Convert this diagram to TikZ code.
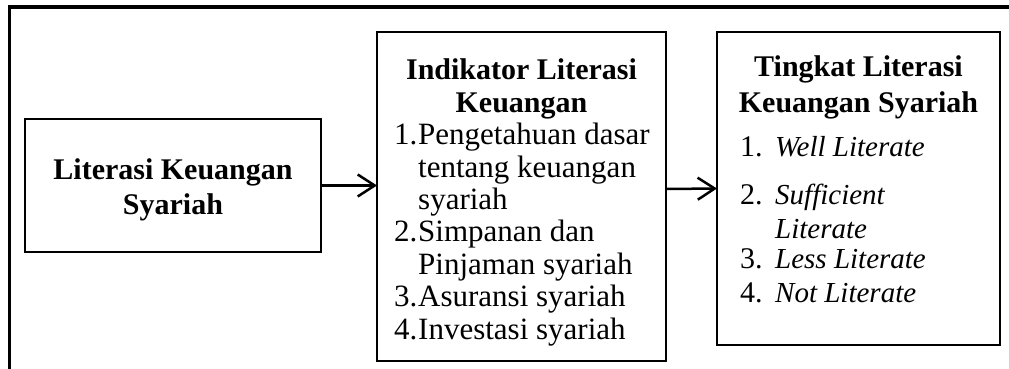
\documentclass[tikz,border=0pt]{standalone}
\usepackage{fontspec}
\setmainfont{Liberation Serif}
\usetikzlibrary{arrows.meta}
\begin{document}
\begin{tikzpicture}[x=1pt,y=-1pt,
  box/.style={draw, line width=2.5pt, anchor=north west, inner sep=0pt, outer sep=0pt},
  tx/.style={font=\fontsize{30}{34}\selectfont, inner sep=0pt, anchor=base west},
  lx/.style={font=\fontsize{31}{34}\selectfont, inner sep=0pt, anchor=base west},
  tt/.style={font=\fontsize{30}{34}\selectfont\bfseries, inner sep=0pt, anchor=base},
  it/.style={font=\fontsize{29}{34}\selectfont\itshape, inner sep=0pt, anchor=base west},
  arr/.style={line width=2.5pt, -{Straight Barb[length=17pt,width=22pt,line width=2.5pt]}},
  frame/.style={line width=3.5pt}]
\useasboundingbox (0,0) rectangle (1009,369);
% outer frame
\coordinate (fa) at (9.5,369);
\coordinate (fb) at (9.5,7);
\coordinate (fc) at (1009,7);
\draw[frame] (fa) -- (fb) -- (fc);
% boxes
\node[box, minimum width=296pt, minimum height=133pt] (b1) at (25,119) {};
\node[box, minimum width=289pt, minimum height=329pt] (b2) at (377,32) {};
\node[box, minimum width=283pt, minimum height=313pt] (b3) at (717,32) {};
% box 1 text
\node[tt] (t1a) at (173,179) {Literasi Keuangan};
\node[tt] (t1b) at (173,214) {Syariah};
% box 2 text
\node[tt] (t2a) at (521.5,79) {Indikator Literasi};
\node[tt] (t2b) at (521.5,112) {Keuangan};
\node[lx] (n21) at (394,144) {1.};
\node[lx] (l21) at (418,144) {Pengetahuan dasar};
\node[lx] (l21b) at (418,177) {tentang keuangan};
\node[lx] (l21c) at (418,209) {syariah};
\node[lx] (n22) at (394,241) {2.};
\node[lx] (l22) at (418,241) {Simpanan dan};
\node[lx] (l22b) at (418,274) {Pinjaman syariah};
\node[lx] (n23) at (394,306) {3.};
\node[lx] (l23) at (418,306) {Asuransi syariah};
\node[lx] (n24) at (394,339) {4.};
\node[lx] (l24) at (418,339) {Investasi syariah};
% box 3 text
\node[tt] (t3a) at (858.5,77) {Tingkat Literasi};
\node[tt] (t3b) at (858.5,112) {Keuangan Syariah};
\node[tx] (n31) at (740,156) {1.};
\node[it] (l31) at (775,156) {Well Literate};
\node[tx] (n32) at (740,204) {2.};
\node[it] (l32) at (775,204) {Sufficient};
\node[it] (l32b) at (775,238) {Literate};
\node[tx] (n33) at (740,268) {3.};
\node[it] (l33) at (775,268) {Less Literate};
\node[tx] (n34) at (740,302) {4.};
\node[it] (l34) at (775,302) {Not Literate};
% arrows
\draw[arr] (b1.east) -- (b1.east -| b2.west);
\draw[arr] (b2.east |- 0,189) -- (b3.west);
\end{tikzpicture}
\end{document}
